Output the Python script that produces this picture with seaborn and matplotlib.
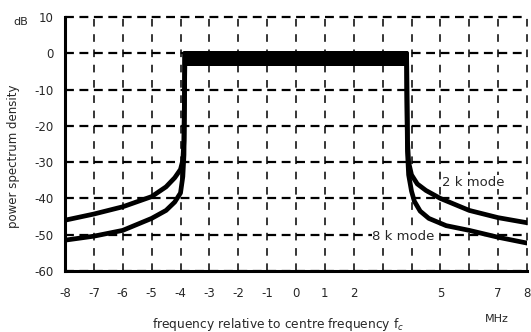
import numpy as np
import pandas as pd
import matplotlib
matplotlib.use("Agg")
import matplotlib.pyplot as plt
import seaborn as sns

# Out-of-band skirts (MHz, dB)
f_2k_left = [-8.0, -7.0, -6.0, -5.0, -4.5, -4.2, -4.0, -3.92, -3.88, -3.86, -3.85]
db_2k_left = [-46.0, -44.3, -42.3, -39.5, -36.8, -34.3, -32.0, -29.5, -24.0, -10.0, 0.0]
f_8k_left = [-8.0, -7.0, -6.0, -5.0, -4.5, -4.2, -4.0, -3.92, -3.88, -3.86, -3.85]
db_8k_left = [-51.5, -50.4, -48.8, -45.5, -43.3, -41.0, -38.5, -34.0, -28.0, -12.0, 0.0]
f_2k_right = [3.83, 3.84, 3.86, 3.9, 4.0, 4.2, 4.5, 5.0, 6.0, 7.0, 8.0]
db_2k_right = [0.0, -10.0, -24.0, -30.0, -33.5, -36.0, -37.8, -40.0, -43.3, -45.3, -46.7]
f_8k_right = [3.83, 3.84, 3.86, 3.9, 4.0, 4.1, 4.3, 4.6, 5.2, 6.0, 7.0, 8.0]
db_8k_right = [0.0, -12.0, -27.0, -33.5, -38.0, -40.8, -43.5, -45.5, -47.5, -48.8, -50.7, -52.3]
band_edges = [-3.86, 3.83]
band_top = [0.6, 0.6]
band_bottom = [-3.6, -3.6]

xticks = [-8, -7, -6, -5, -4, -3, -2, -1, 0, 1, 2, 3, 4, 5, 6, 7, 8]
xticklabels = ["-8", "-7", "-6", "-5", "-4", "-3", "-2", "-1", "0", "1", "2", "", "", "5", "", "7", "8"]
yticks = [10, 0, -10, -20, -30, -40, -50, -60]
yticklabels = ["10", "0", "-10", "-20", "-30", "-40", "-50", "-60"]

sns.set_style("white")
plt.rcParams['font.family'] = ['DejaVu Sans']

fig = plt.figure(figsize=(5.31, 3.32), dpi=100)
ax = fig.add_axes([0.1224, 0.1837, 0.8701, 0.7651])

segments = [
    (f_2k_left, db_2k_left), (f_8k_left, db_8k_left),
    (f_2k_right, db_2k_right), (f_8k_right, db_8k_right),
]
for fs, dbs in segments:
    df = pd.DataFrame({"f": fs, "dB": dbs})
    sns.lineplot(data=df, x="f", y="dB", color="black", lw=3.4, ax=ax, sort=False,
                 estimator=None, solid_joinstyle="round", solid_capstyle="round", zorder=3)

ax.fill_between(band_edges, band_bottom, band_top, color="black", zorder=3, lw=0)

ax.set_xlim(-8, 8)
ax.set_ylim(-60, 10)

# grid
for x in xticks:
    ax.axvline(x, color="black", lw=1.1, ls=(0, (5, 5)), zorder=1, clip_on=False)
for y in yticks:
    ax.axhline(y, color="black", lw=1.6, ls=(0, (4, 2.5)), zorder=1, clip_on=False)

for s in ["top", "right"]:
    ax.spines[s].set_visible(False)
ax.spines["left"].set_linewidth(2.2)
ax.spines["bottom"].set_linewidth(2.2)
ax.spines["left"].set_color("black")
ax.spines["bottom"].set_color("black")

ax.set_xticks(xticks)
ax.set_xticklabels(xticklabels, fontsize=8.5)
ax.set_yticks(yticks)
ax.set_yticklabels(yticklabels, fontsize=8.5)
ax.tick_params(axis="both", direction="inout", length=5, width=1.5, color="black", pad=6)
ax.tick_params(axis="x", pad=9)

ax.set_xlabel("")
ax.set_ylabel("")

fig.text(0.026, 0.53, "power spectrum density", rotation=90, ha="center", va="center", fontsize=8.5)
fig.text(0.04, 0.935, "dB", ha="center", va="center", fontsize=8)
fig.text(0.523, 0.022, "frequency relative to centre frequency f$_c$", ha="center", va="center", fontsize=8.8)
fig.text(0.936, 0.04, "MHz", ha="center", va="center", fontsize=8)

ax.text(6.14, -35.5, "2 k mode", ha="center", va="center", fontsize=9.5, zorder=4,
        bbox=dict(facecolor="white", edgecolor="none", pad=0.5))
ax.text(3.72, -50.6, "8 k mode", ha="center", va="center", fontsize=9.5, zorder=4,
        bbox=dict(facecolor="white", edgecolor="none", pad=0.5))

fig.savefig("out.png", dpi=100)
